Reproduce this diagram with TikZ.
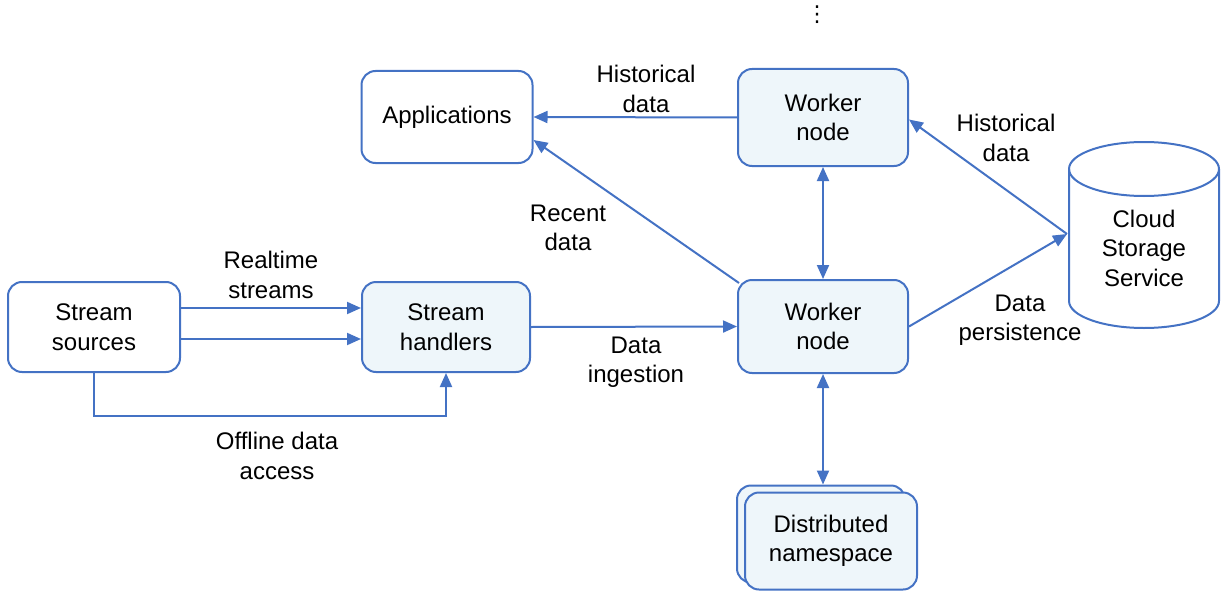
\documentclass[tikz,border=0pt]{standalone}
\usepackage{fontspec}
\setmainfont{Liberation Sans}
\newfontfamily\symfont{DejaVu Sans}
\usetikzlibrary{arrows.meta,calc}
\definecolor{edge}{HTML}{4472C4}
\definecolor{pale}{HTML}{EEF6FA}
\begin{document}
\begin{tikzpicture}[x=1pt,y=-1pt,
  txt/.style={font=\fontsize{24}{29.5}\selectfont, align=center, inner sep=0pt},
  box/.style={txt, draw=edge, line width=2pt, rounded corners=14pt,
    minimum width=170pt, minimum height=92pt},
  plain/.style={box, fill=white},
  shaded/.style={box, fill=pale},
  link/.style={draw=edge, line width=2pt},
  arr/.style={link, -{Triangle[length=14pt,width=12pt]}},
  darr/.style={link, {Triangle[length=14pt,width=12pt]}-{Triangle[length=14pt,width=12pt]}}]
\useasboundingbox (0,0) rectangle (1222,591);

% boxes
\node[plain, minimum width=172pt, minimum height=90pt] (ss) at (94,327) {Stream\\sources};
\node[shaded, minimum width=168pt, minimum height=90pt] (sh) at (446,327) {Stream\\handlers};
\node[plain, minimum width=171pt] (app) at (447,117) {Applications};
\node[shaded, minimum height=97pt] (wt) at (823,117.5) {Worker\\node};
\node[shaded, minimum height=93pt] (wb) at (823,326.5) {Worker\\node};
\node[shaded, minimum width=168pt, minimum height=97pt] (dnb) at (821,534) {};
\node[shaded, minimum width=172pt, minimum height=97pt] (dn) at (831,541) {Distributed\\namespace};

% storage cylinder
\draw[link, fill=white] (1069,169) -- (1069,301) arc[start angle=180, end angle=360, x radius=75, y radius=-27]
  -- (1219,169) arc[start angle=0, end angle=180, x radius=75, y radius=-27] -- cycle;
\draw[link] (1069,169) arc[start angle=180, end angle=360, x radius=75, y radius=-27];
\node[txt] (cloud) at (1144,248) {Cloud\\Storage\\Service};
\coordinate (cin) at (1067,234);

% ellipsis above the worker column
\node[font=\symfont\fontsize{22}{26}\selectfont, inner sep=0pt] (more) at (817,15) {⋮};

% connectors
\draw[arr] ($(ss.east)+(0,-19)$) -- ($(sh.west)+(0,-19)$);
\draw[arr] ($(ss.east)+(0,12)$) -- ($(sh.west)+(0,12)$);
\draw[arr] (ss.south) -- ++(0,43) -| (sh.south);
\draw[arr] (sh.east) -- (wb.west);
\draw[arr] (wt.west) -- (app.east);
\draw[arr] ($(wb.north west)+(2,4)$) -- ($(app.east)+(0,23)$);
\draw[darr] (wt.south) -- (wb.north);
\draw[darr] (wb.south) -- (wb.south |- dnb.north);
\draw[arr] (wb.east) -- (cin);
\draw[arr] (cin) -- ($(wt.east)+(0,2)$);

% labels
\node[txt] (l1) at (271,275) {Realtime\\streams};
\node[txt] (l2) at (277,456) {Offline data\\access};
\node[txt] (l3) at (636,362) {Data\\ingestion};
\node[txt] (l4) at (646,89) {Historical\\data};
\node[txt] (l5) at (568,228) {Recent\\data};
\node[txt] (l6) at (1006,138) {Historical\\data};
\node[txt] (l7) at (1020,320) {Data\\persistence};
\end{tikzpicture}
\end{document}
